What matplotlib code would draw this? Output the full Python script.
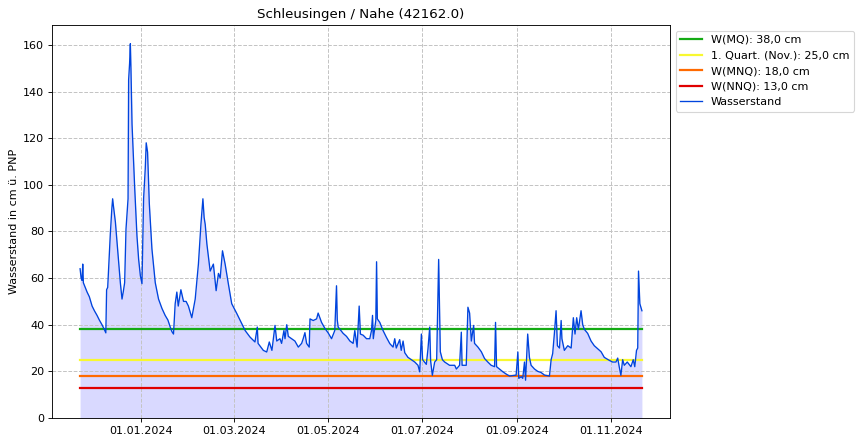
import numpy as np
import pandas as pd
import matplotlib
matplotlib.use('Agg')
import matplotlib.pyplot as plt
import matplotlib.dates as mdates

# Wasserstand readings (cm ue. PNP)
times = [
    "2023-11-22 07:00", "2023-11-22 23:00", "2023-11-23 14:00", "2023-11-24 00:00", "2023-11-24 10:00",
    "2023-11-26 20:00", "2023-11-28 07:00", "2023-11-30 02:00", "2023-12-01 14:00", "2023-12-03 07:00",
    "2023-12-04 19:00", "2023-12-06 12:00", "2023-12-08 00:00", "2023-12-09 00:00", "2023-12-09 12:00",
    "2023-12-10 05:00", "2023-12-11 22:00", "2023-12-12 22:00", "2023-12-13 10:00", "2023-12-13 22:00",
    "2023-12-15 05:00", "2023-12-17 07:00", "2023-12-18 10:00", "2023-12-19 12:00", "2023-12-20 07:00",
    "2023-12-21 05:00", "2023-12-22 02:00", "2023-12-23 10:00", "2023-12-23 19:00", "2023-12-24 10:00",
    "2023-12-24 22:00", "2023-12-25 07:00", "2023-12-26 00:00", "2023-12-27 17:00", "2023-12-29 05:00",
    "2023-12-30 07:00", "2023-12-31 10:00", "2024-01-01 11:00", "2024-01-02 12:00", "2024-01-03 14:00",
    "2024-01-04 05:00", "2024-01-05 02:00", "2024-01-06 05:00", "2024-01-07 22:00", "2024-01-10 02:00",
    "2024-01-12 05:00", "2024-01-14 10:00", "2024-01-16 12:00", "2024-01-18 07:00", "2024-01-19 19:00",
    "2024-01-20 22:00", "2024-01-21 22:00", "2024-01-23 00:00", "2024-01-24 02:00", "2024-01-25 00:00",
    "2024-01-26 17:00", "2024-01-28 10:00", "2024-01-30 02:00", "2024-01-31 14:00", "2024-02-02 19:00",
    "2024-02-05 00:00", "2024-02-07 02:00", "2024-02-08 17:00", "2024-02-10 00:00", "2024-02-10 19:00",
    "2024-02-11 12:00", "2024-02-12 14:00", "2024-02-14 17:00", "2024-02-16 19:00", "2024-02-18 14:00",
    "2024-02-20 02:00", "2024-02-21 05:00", "2024-02-22 17:00", "2024-02-24 10:00", "2024-02-26 12:00",
    "2024-02-28 17:00", "2024-03-03 00:00", "2024-03-06 05:00", "2024-03-08 10:00", "2024-03-11 14:00",
    "2024-03-14 19:00", "2024-03-16 07:00", "2024-03-16 19:00", "2024-03-20 05:00", "2024-03-22 10:00",
    "2024-03-24 02:00", "2024-03-25 19:00", "2024-03-27 19:00", "2024-03-28 22:00", "2024-03-31 00:00",
    "2024-04-01 02:00", "2024-04-02 14:00", "2024-04-03 07:00", "2024-04-04 10:00", "2024-04-05 10:00",
    "2024-04-07 14:00", "2024-04-09 17:00", "2024-04-11 22:00", "2024-04-14 02:00", "2024-04-15 02:00",
    "2024-04-16 05:00", "2024-04-17 07:00", "2024-04-19 00:00", "2024-04-19 12:00", "2024-04-21 14:00",
    "2024-04-23 19:00", "2024-04-24 19:00", "2024-04-27 00:00", "2024-04-29 05:00", "2024-05-01 07:00",
    "2024-05-03 12:00", "2024-05-05 14:00", "2024-05-06 17:00", "2024-05-07 05:00", "2024-05-07 19:00",
    "2024-05-11 00:00", "2024-05-13 05:00", "2024-05-15 10:00", "2024-05-17 12:00", "2024-05-18 14:00",
    "2024-05-20 02:00", "2024-05-21 10:00", "2024-05-22 05:00", "2024-05-24 00:00", "2024-05-26 05:00",
    "2024-05-28 07:00", "2024-05-29 10:00", "2024-05-30 02:00", "2024-05-30 14:00", "2024-06-01 05:00",
    "2024-06-01 17:00", "2024-06-02 05:00", "2024-06-03 19:00", "2024-06-05 22:00", "2024-06-08 02:00",
    "2024-06-10 07:00", "2024-06-12 10:00", "2024-06-13 12:00", "2024-06-14 12:00", "2024-06-16 17:00",
    "2024-06-17 17:00", "2024-06-18 22:00", "2024-06-20 00:00", "2024-06-22 02:00", "2024-06-24 07:00",
    "2024-06-26 12:00", "2024-06-28 14:00", "2024-06-29 17:00", "2024-06-30 19:00", "2024-07-01 14:00",
    "2024-07-04 00:00", "2024-07-05 02:00", "2024-07-06 05:00", "2024-07-06 19:00", "2024-07-07 22:00",
    "2024-07-09 10:00", "2024-07-10 17:00", "2024-07-12 00:00", "2024-07-13 02:00", "2024-07-14 10:00",
    "2024-07-15 22:00", "2024-07-19 02:00", "2024-07-22 10:00", "2024-07-23 12:00", "2024-07-25 14:00",
    "2024-07-26 17:00", "2024-07-27 05:00", "2024-07-29 22:00", "2024-07-31 00:00", "2024-08-01 02:00",
    "2024-08-02 05:00", "2024-08-03 17:00", "2024-08-04 07:00", "2024-08-06 12:00", "2024-08-08 17:00",
    "2024-08-10 19:00", "2024-08-12 22:00", "2024-08-15 02:00", "2024-08-17 07:00", "2024-08-17 22:00",
    "2024-08-18 14:00", "2024-08-20 12:00", "2024-08-22 17:00", "2024-08-24 22:00", "2024-08-27 00:00",
    "2024-08-31 07:00", "2024-09-01 10:00", "2024-09-02 00:00", "2024-09-03 14:00", "2024-09-04 14:00",
    "2024-09-05 17:00", "2024-09-06 10:00", "2024-09-07 19:00", "2024-09-08 22:00", "2024-09-10 00:00",
    "2024-09-12 05:00", "2024-09-14 07:00", "2024-09-16 12:00", "2024-09-18 17:00", "2024-09-21 22:00",
    "2024-09-23 00:00", "2024-09-24 00:00", "2024-09-25 02:00", "2024-09-26 05:00", "2024-09-27 02:00",
    "2024-09-28 10:00", "2024-09-29 12:00", "2024-09-30 00:00", "2024-10-01 14:00", "2024-10-03 19:00",
    "2024-10-06 00:00", "2024-10-07 10:00", "2024-10-08 12:00", "2024-10-09 14:00", "2024-10-10 17:00",
    "2024-10-12 10:00", "2024-10-13 12:00", "2024-10-14 14:00", "2024-10-16 17:00", "2024-10-18 22:00",
    "2024-10-21 00:00", "2024-10-23 05:00", "2024-10-25 10:00", "2024-10-27 12:00", "2024-10-30 19:00",
    "2024-11-01 22:00", "2024-11-04 02:00", "2024-11-05 05:00", "2024-11-06 05:00", "2024-11-07 07:00",
    "2024-11-08 10:00", "2024-11-09 12:00", "2024-11-11 10:00", "2024-11-13 19:00", "2024-11-15 07:00",
    "2024-11-16 07:00", "2024-11-17 10:00", "2024-11-18 05:00", "2024-11-18 17:00", "2024-11-19 14:00",
    "2024-11-20 22:00",
]
wasserstand = [
    64, 60, 59, 66, 58, 54, 52, 48, 46, 44,
    42, 40, 38, 36.5, 55, 56, 79, 90, 94, 91,
    84, 67, 58, 51, 54, 58, 81, 94, 145, 152,
    160.5, 150, 126, 99, 78, 68, 61, 57.6, 94, 107,
    118, 114, 92, 72.5, 58, 51, 47, 44, 42, 39,
    37, 36, 49, 54, 48, 55, 50, 50, 48, 43,
    51, 66, 83, 94, 86, 83, 74.6, 63, 66, 54.6,
    62, 60, 71.7, 66, 57.6, 49, 44.8, 40.5, 37.5, 34.7,
    32.6, 39, 32, 29, 28.3, 32.6, 29, 39.7, 33, 34,
    32, 37.5, 34, 40, 35, 34, 33, 30.4, 32, 34,
    36.6, 32, 30.4, 42.5, 41.8, 42.5, 45, 41, 38.4, 36.5,
    34, 37.5, 56.7, 42, 39, 36.3, 35, 33, 32, 37.5,
    30.4, 48, 36, 35.5, 34, 34, 37.5, 44, 34, 41.8,
    67, 42.5, 41, 37.5, 34.6, 31.9, 30.4, 34, 30, 33.6,
    29, 33, 28, 26, 25, 24, 22.6, 19.8, 36, 25,
    23, 29.7, 39, 24.5, 18.3, 24, 25, 68, 28.4, 25,
    24, 22.6, 22.6, 21, 22.6, 36.8, 22.6, 22.6, 47.5, 45,
    33, 39.7, 32, 30.4, 28.4, 25.5, 24, 22.6, 22, 41,
    22, 21, 19.8, 18.8, 18, 18.4, 28.3, 17, 17.7, 17,
    24, 16.2, 36, 26, 22.6, 21, 20, 19.5, 18.4, 18,
    25, 27.6, 36, 46, 31, 30, 41.8, 34, 29, 31,
    30, 43, 36, 43, 38, 46, 40, 38, 36.3, 33,
    31, 29.7, 28.4, 26, 24.7, 24, 24, 25.7, 21.9, 18.3,
    25, 22.6, 24, 22, 25, 22, 29, 30, 63, 49,
    46,
]

# reference levels
ref_labels = ["W(MQ): 38,0 cm", "1. Quart. (Nov.): 25,0 cm", "W(MNQ): 18,0 cm", "W(NNQ): 13,0 cm"]
ref_values = [38.0, 25.0, 18.0, 13.0]
ref_colors = ["#14aa14", "#f8f830", "#ff6a00", "#e00000"]

dates = pd.to_datetime(times)

fig = plt.figure(figsize=(863 / 80, 444 / 80), dpi=80)
ax = fig.add_axes([52 / 863, 26 / 444, 618 / 863, 393 / 444])

for label, val, col in zip(ref_labels, ref_values, ref_colors):
    ax.plot([dates.min(), dates.max()], [val, val], color=col, lw=2, label=label)

ax.plot(dates, wasserstand, color="#0044dd", lw=1.2, label="Wasserstand")
ax.fill_between(dates, wasserstand, color="blue", alpha=0.15, lw=0)

ax.set_ylim(bottom=0)
ax.set_title("Schleusingen / Nahe (42162.0)", fontsize=12)
ax.set_ylabel("Wasserstand in cm ü. PNP")
ax.grid(True, linestyle="--", color="#c4c4c4", lw=0.9)

ax.xaxis.set_major_locator(mdates.MonthLocator(bymonth=[1, 3, 5, 7, 9, 11]))
ax.xaxis.set_major_formatter(mdates.DateFormatter("%d.%m.%Y"))

ax.legend(loc="upper left", bbox_to_anchor=(1.0, 1.0))

fig.savefig("out.png", dpi=80)
